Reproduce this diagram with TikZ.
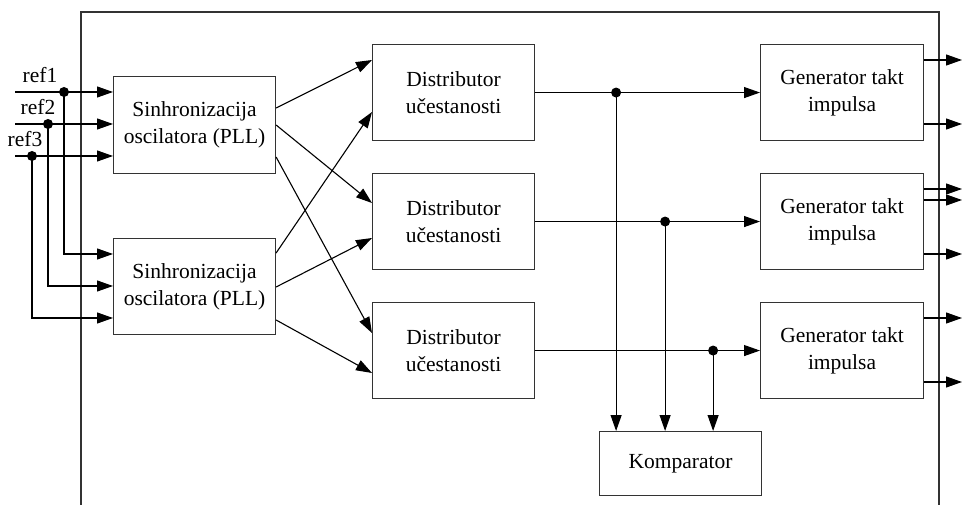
\documentclass[tikz,border=0pt]{standalone}
\usepackage{fontspec}
\setmainfont{Liberation Serif}
\usetikzlibrary{arrows.meta,calc}
\begin{document}
\begin{tikzpicture}[x=1pt,y=-1pt,
  blk/.style={draw=black!80,line width=1.1pt,rectangle,inner sep=0pt,anchor=north west,
    align=center,font=\fontsize{21.5}{27}\selectfont},
  wire/.style={line width=1.1pt,black},
  arr/.style={wire,-{Triangle[length=16pt,width=11pt]}},
  dot/.style={circle,fill=black,inner sep=0pt,minimum size=10pt},
  lbl/.style={font=\fontsize{21.5}{27}\selectfont,anchor=base,inner sep=0pt}]
\useasboundingbox (0,0) rectangle (962,505);

% enclosing frame, open at the bottom
\draw[line width=1.1pt,black!80] (81,505) -- (81,12) -- (939,12) -- (939,505);

% blocks
\node[blk,minimum width=162pt,minimum height=97pt] (pll1) at (113,76) {Sinhronizacija\\oscilatora (PLL)};
\node[blk,minimum width=162pt,minimum height=96pt] (pll2) at (113,238) {Sinhronizacija\\oscilatora (PLL)};
\node[blk,minimum width=162pt,minimum height=96pt] (dist1) at (372,44) {Distributor\\učestanosti};
\node[blk,minimum width=162pt,minimum height=96pt] (dist2) at (372,173) {Distributor\\učestanosti};
\node[blk,minimum width=162pt,minimum height=96pt] (dist3) at (372,302) {Distributor\\učestanosti};
\node[blk,minimum width=163pt,minimum height=96pt] (gen1) at (760,44) {Generator takt\\impulsa};
\node[blk,minimum width=163pt,minimum height=96pt] (gen2) at (760,173) {Generator takt\\impulsa};
\node[blk,minimum width=163pt,minimum height=96pt] (gen3) at (760,302) {Generator takt\\impulsa};
\node[blk,minimum width=162pt,minimum height=64pt] (komp) at (599,431) {Komparator};

% reference inputs
\node[lbl] (l1) at (40,83) {ref1};
\node[lbl] (l2) at (38,115) {ref2};
\node[lbl] (l3) at (25,147) {ref3};
\coordinate (r1) at (15,92);
\coordinate (r2) at (15,124);
\coordinate (r3) at (15,156);
\node[dot] (d1) at (64,92) {};
\node[dot] (d2) at (48,124) {};
\node[dot] (d3) at (32,156) {};
\draw[arr] (r1) -- ($(pll1.north west)+(0,16)$);
\draw[arr] (r2) -- ($(pll1.north west)+(0,48)$);
\draw[arr] (r3) -- ($(pll1.north west)+(0,80)$);
\draw[arr] (d1.center) |- ($(pll2.north west)+(0,16)$);
\draw[arr] (d2.center) |- ($(pll2.north west)+(0,48)$);
\draw[arr] (d3.center) |- ($(pll2.north west)+(0,80)$);

% PLL to distributor cross links
\draw[arr] ($(pll1.north east)+(0,32)$) -- ($(dist1.north west)+(0,16)$);
\draw[arr] ($(pll1.north east)+(0,49)$) -- ($(dist2.north west)+(0,30)$);
\draw[arr] ($(pll1.north east)+(0,81)$) -- ($(dist3.north west)+(0,31)$);
\draw[arr] ($(pll2.north east)+(0,15)$) -- ($(dist1.north west)+(0,68)$);
\draw[arr] ($(pll2.north east)+(0,49)$) -- ($(dist2.north west)+(0,65)$);
\draw[arr] ($(pll2.north east)+(0,82)$) -- ($(dist3.north west)+(0,71)$);

% distributor to generator, tapped to the comparator
\draw[arr] (dist1.east) -- (gen1.west);
\draw[arr] (dist2.east) -- (gen2.west);
\draw[arr] (dist3.east) -- (gen3.west);
\node[dot] (t1) at ($(dist1.east)+(81,0)$) {};
\node[dot] (t2) at ($(dist2.east)+(130,0)$) {};
\node[dot] (t3) at ($(dist3.east)+(178,0)$) {};
\draw[arr] (t1.center) -- (t1.center |- komp.north);
\draw[arr] (t2.center) -- (t2.center |- komp.north);
\draw[arr] (t3.center) -- (t3.center |- komp.north);

% clock outputs
\coordinate (o11) at (962,60);
\coordinate (o12) at (962,124);
\coordinate (o21) at (962,189);
\coordinate (o22) at (962,200);
\coordinate (o23) at (962,254);
\coordinate (o31) at (962,318);
\coordinate (o32) at (962,382);
\draw[arr] (gen1.east |- o11) -- (o11);
\draw[arr] (gen1.east |- o12) -- (o12);
\draw[arr] (gen2.east |- o21) -- (o21);
\draw[arr] (gen2.east |- o22) -- (o22);
\draw[arr] (gen2.east |- o23) -- (o23);
\draw[arr] (gen3.east |- o31) -- (o31);
\draw[arr] (gen3.east |- o32) -- (o32);
\end{tikzpicture}
\end{document}
